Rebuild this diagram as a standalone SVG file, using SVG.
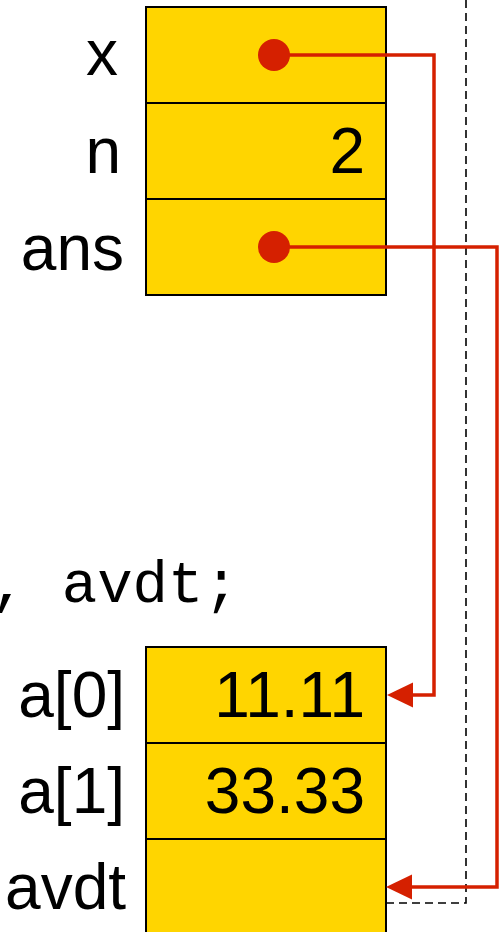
<svg xmlns="http://www.w3.org/2000/svg" width="503" height="932" viewBox="0 0 503 932">
<defs>
<style>
.cell{fill:#FFD500;stroke:#000;stroke-width:2}
.lbl{font-family:"Liberation Sans",Arial,sans-serif;font-size:64px;fill:#000;text-anchor:end}
.code{font-family:"Liberation Mono","Courier New",monospace;font-size:59px;fill:#000}
.ptr{fill:none;stroke:#D52000;stroke-width:3.5}
.dot{fill:#D52000}
.dash{fill:none;stroke:#000;stroke-width:1.6;stroke-dasharray:8 5}
</style>
<marker id="arr" viewBox="0 0 26 26" refX="1" refY="13" markerWidth="26" markerHeight="26" markerUnits="userSpaceOnUse" orient="auto">
<path d="M26,0 L0,13 L26,26 Z" fill="#D52000"/>
</marker>
</defs>
<rect width="503" height="932" fill="#fff"/>
<text class="code" x="-9" y="602">, avdt;</text>
<g id="x">
<rect class="cell" x="146" y="7" width="240" height="96"/>
<text class="lbl" x="118" y="75">x</text>
</g>
<g id="n">
<rect class="cell" x="146" y="103" width="240" height="96"/>
<text class="lbl" x="121" y="173">n</text>
<text class="lbl" x="365" y="173">2</text>
</g>
<g id="ans">
<rect class="cell" x="146" y="199" width="240" height="96"/>
<text class="lbl" x="124" y="270">ans</text>
</g>
<g id="a0">
<rect class="cell" x="146" y="647" width="240" height="96"/>
<text class="lbl" x="125" y="717">a[0]</text>
<text class="lbl" x="365" y="717">11.11</text>
</g>
<g id="a1">
<rect class="cell" x="146" y="743" width="240" height="96"/>
<text class="lbl" x="125" y="813">a[1]</text>
<text class="lbl" x="365" y="813">33.33</text>
</g>
<g id="avdt">
<rect class="cell" x="146" y="839" width="240" height="100"/>
<text class="lbl" x="126" y="909">avdt</text>
</g>
<g id="connectors">
<path class="dash" d="M466,0 V903 H386"/>
<path class="ptr" d="M274,55 H434 V695 H413"/>
<path d="M387,695 L413,682.5 L413,707.5 Z" fill="#D52000"/>
<path class="ptr" d="M274,247 H497 V887 H412"/>
<path d="M386,887 L412,874.5 L412,899.5 Z" fill="#D52000"/>
<circle class="dot" cx="274" cy="55" r="16"/>
<circle class="dot" cx="274" cy="247" r="16"/>
</g>
</svg>
